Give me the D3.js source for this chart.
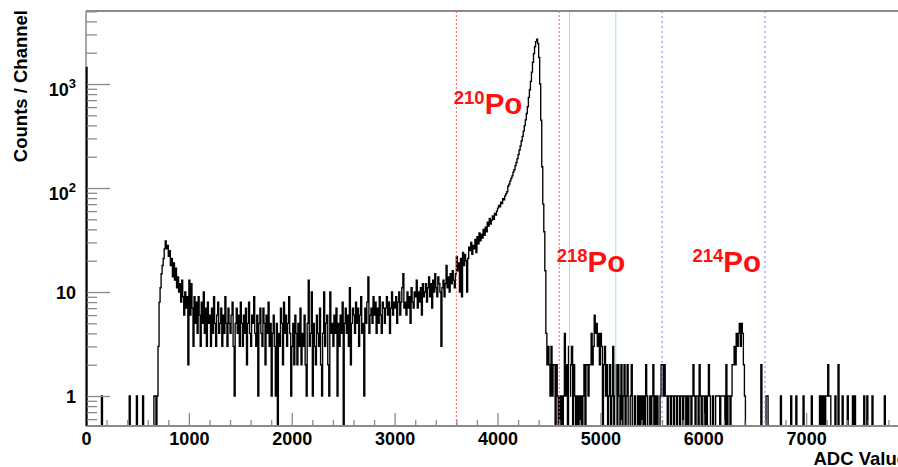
<!DOCTYPE html>
<html><head><meta charset="utf-8">
<script src="https://cdn.jsdelivr.net/npm/d3@7"></script>
<style>body{margin:0;background:#fff}svg{display:block}</style>
</head><body>
<svg id="chart" width="898" height="467"></svg>
<script>
// ---------- data (bin width 10 ADC channels, 0..8000) ----------
const binWidth = 10;
// bins 0-69 (ADC 0-699)
const pedestal = [
  1450,0,0,0,0,0,0,0,0,0,
  0,0,0,0,0,1,0,0,0,0,
  0,0,0,0,0,0,0,0,0,0,
  0,0,0,0,0,0,0,0,0,0,
  0,0,1,0,0,0,0,0,0,1,
  0,0,0,0,0,1,0,0,0,0,
  0,0,0,0,0,0,1,1,0,1
];
// bins 70-119 (ADC 700-1199)
const lowBump = [
  3,8,11,15,18,21,26,31,26,28,
  22,25,18,21,14,19,13,17,11,14,
  10,12,8,13,9,6,10,7,9,2,
  13,6,12,7,3,9,5,8,4,9,
  6,3,8,5,10,4,7,3,8,5
];
// bins 120-359 (ADC 1200-3599)
const plateau = [
  6,3,7,4,9,5,3,6,8,4,
  5,7,3,6,4,9,5,3,7,5,
  4,6,8,3,1,5,7,4,6,3,
  8,5,3,6,4,7,2,5,8,4,
  3,6,5,9,4,3,6,1,5,7,
  4,3,7,5,2,6,4,8,3,5,
  1,4,6,3,1,5,0,4,3,7,
  5,2,8,4,6,3,5,9,4,1,
  3,5,2,6,4,2,5,3,7,2,
  4,3,6,2,1,5,13,3,4,10,
  1,5,3,2,6,4,3,7,2,1,
  4,10,3,5,6,2,1,10,4,5,
  3,6,4,7,1,5,3,6,4,8,
  0,5,7,4,6,3,11,2,5,7,
  6,4,8,5,7,3,6,9,4,5,
  1,7,5,8,14,4,6,7,5,9,
  6,8,4,7,5,9,6,4,8,7,
  5,7,9,6,8,4,7,10,6,8,
  7,9,5,8,10,6,8,11,15,7,
  8,6,10,7,9,5,11,8,7,10,
  9,13,7,10,8,11,6,12,9,10,
  12,8,11,14,9,12,7,13,10,15,
  11,9,14,12,10,3,11,13,9,12,
  18,11,14,10,15,12,16,13,11,15
];
// bins 360-448 (ADC 3600-4489)
const po210Peak = [
  22,16,19,10,21,9,24,18,23,20,
  10,21,27,25,30,23,28,26,32,24,
  34,29,37,31,36,33,40,35,42,38,
  47,43,51,45,49,54,50,57,55,60,
  64,68,66,73,71,79,77,84,88,92,
  104,109,117,124,131,142,150,163,176,192,
  210,232,254,283,314,352,398,452,520,605,
  745,880,1060,1300,1620,1960,2280,2560,2700,2450,
  1800,1000,450,160,70,38,16,4,2
];
// bins 449-799 (ADC 4490-7999)
const tail = [
  3,
  2,1,3,1,2,2,0,2,1,0,
  1,0,1,0,1,4,1,2,0,3,
  1,2,3,0,2,1,0,1,0,1,
  0,1,0,1,2,0,2,2,1,2,
  2,4,2,3,6,4,5,3,4,2,
  4,3,0,2,3,1,2,0,1,2,
  0,1,3,0,1,2,0,2,1,0,
  2,0,1,2,0,1,2,0,0,1,
  2,0,0,1,0,0,1,0,1,0,
  1,0,1,0,2,1,0,0,1,0,
  1,2,0,1,0,1,0,0,1,2,
  2,1,2,1,1,0,1,1,0,1,
  1,0,1,1,0,1,1,0,1,1,
  0,1,1,0,1,0,1,1,0,1,
  2,1,0,1,1,0,2,1,0,1,
  1,0,1,0,1,2,1,0,0,1,
  0,0,1,1,1,1,0,1,1,1,
  1,0,2,0,1,1,0,1,2,2,
  3,2,4,3,4,5,3,5,4,2,
  1,0,0,0,0,0,0,0,0,0,
  0,0,0,0,0,0,2,0,0,0,
  0,1,1,0,0,0,0,0,0,0,
  0,0,0,0,0,1,0,0,0,0,
  0,0,0,0,0,1,0,0,0,0,
  1,0,0,0,0,0,0,1,0,0,
  0,0,0,0,0,1,0,0,0,0,
  0,0,0,1,0,1,0,1,0,1,
  1,2,1,1,0,0,0,0,1,0,
  0,2,0,0,0,1,0,0,0,0,
  1,0,0,0,0,1,0,1,0,0,
  0,0,0,0,0,0,1,0,0,1,
  0,0,0,0,1,0,0,0,0,0,
  0,0,0,0,0,0,1,0,0,0,
  0,0,0,0,0,0,0,0,0,0,
  0,0,0,0,0,0,0,0,0,0
];
const xMajorTicks = [0,1000,2000,3000,4000,5000,6000,7000];
const yMajorTicks = [1,10,100,1000];
const yTickBase = ["1","10","10","10"];
const yTickExp  = ["","","2","3"];
// window markers (ADC value, family)
const markerADC  = [3600,4600,4700,5150,5600,6600];
const markerKind = ["red","red","green","green","blue","blue"];
// isotope labels: mass number, anchor ADC, anchor counts
const isoMass   = ["210","218","214"];
const isoADC    = [3575,4575,5895];
const isoCounts = [520,15.6,15.6];

// ---------- drawing ----------
const svg = d3.select("#chart");
const L=86, R=909, T=11, B=426;
const x = d3.scaleLinear().domain([0,8000]).range([L,R]);
const y = d3.scaleLog().domain([0.515,5035]).range([B,T]);
const FONT = "'Liberation Sans', Arial, Helvetica, sans-serif";
const AX = "#8a8a8a";

svg.append("defs").append("clipPath").attr("id","frame")
  .append("rect").attr("x",L).attr("y",T).attr("width",R-L).attr("height",B-T);

const counts = [].concat(pedestal, lowBump, plateau, po210Peak, tail);
const yMin = y.domain()[0];
const pts = [[x(0), B]];
counts.forEach((c,i)=>pts.push([x(i*binWidth), y(Math.max(c,yMin))]));
pts.push([x(counts.length*binWidth), y(Math.max(counts[counts.length-1],yMin))]);
const line = d3.line().curve(d3.curveStepAfter);

svg.append("path").attr("d", line(pts)).attr("clip-path","url(#frame)")
  .attr("fill","none").attr("stroke","#000").attr("stroke-width",1.35);

// markers
const mStyle = {
  red:   {c:"#ff5c5c", d:"2,2"},
  green: {c:"#a6ee9e", d:null},
  blue:  {c:"#6f7cff", d:"2,3"}
};
markerADC.forEach((a,i)=>{
  const s = mStyle[markerKind[i]];
  const l = svg.append("line").attr("x1",x(a)).attr("x2",x(a)).attr("y1",T).attr("y2",B)
    .attr("stroke",s.c).attr("stroke-width",1);
  if (s.d) l.attr("stroke-dasharray",s.d);
});

// x axis
const gx = svg.append("g").attr("transform",`translate(0,${B})`);
gx.call(d3.axisBottom(x).tickValues(d3.range(0,8001,200).filter(v=>v%1000)).tickSize(-6).tickFormat(""));
gx.call(g=>g.select(".domain").remove());
const gx2 = svg.append("g").attr("transform",`translate(0,${B})`);
gx2.call(d3.axisBottom(x).tickValues(xMajorTicks).tickSize(-13).tickPadding(6).tickFormat(d3.format("d")));
gx2.select(".domain").remove();
svg.selectAll("g .tick line").attr("stroke",AX).attr("stroke-width",1.3);
gx2.selectAll(".tick text").attr("font-family",FONT).attr("font-size",18).attr("font-weight","bold").attr("fill","#000");

// y axis
const gy = svg.append("g").attr("transform",`translate(${L},0)`);
gy.call(d3.axisLeft(y).tickValues(y.ticks().filter(v=>!yMajorTicks.includes(v))).tickSize(-11).tickFormat(""));
gy.select(".domain").remove();
const gy2 = svg.append("g").attr("transform",`translate(${L},0)`);
gy2.call(d3.axisLeft(y).tickValues(yMajorTicks).tickSize(-24).tickPadding(10).tickFormat(""));
gy2.select(".domain").remove();
svg.selectAll("g .tick line").attr("stroke",AX).attr("stroke-width",1.3);
gy2.selectAll(".tick text").each(function(d){
  const i = yMajorTicks.indexOf(d);
  const t = d3.select(this).attr("font-family",FONT).attr("font-weight","bold").attr("fill","#000").attr("font-size",18);
  t.text(null);
  if (yTickExp[i]) {
    t.attr("dy", 11);
    t.append("tspan").text(yTickBase[i]);
    t.append("tspan").attr("dy",-8).attr("font-size",13).text(yTickExp[i]);
  } else {
    t.attr("dy", 6.5).text(yTickBase[i]);
  }
});

// frame
svg.append("line").attr("x1",L).attr("x2",898).attr("y1",T).attr("y2",T).attr("stroke",AX).attr("stroke-width",2);
svg.append("line").attr("x1",L).attr("x2",898).attr("y1",B).attr("y2",B).attr("stroke",AX).attr("stroke-width",2);
svg.append("line").attr("x1",L).attr("x2",L).attr("y1",T).attr("y2",B).attr("stroke",AX).attr("stroke-width",1.5);
// redraw histogram's first bin over frame
svg.append("line").attr("x1",x(0)+0.3).attr("x2",x(0)+0.3).attr("y1",B).attr("y2",y(pedestal[0]))
  .attr("stroke","#000").attr("stroke-width",1.3);

// titles
svg.append("text").attr("transform",`translate(27,${T-1}) rotate(-90)`).attr("text-anchor","end")
  .attr("font-family",FONT).attr("font-weight","bold").attr("font-size",18.5).text("Counts / Channel");
svg.append("text").attr("x",907).attr("y",465).attr("text-anchor","end")
  .attr("font-family",FONT).attr("font-weight","bold").attr("font-size",18.5).text("ADC Value");

// isotope labels
isoMass.forEach((m,i)=>{
  const t = svg.append("text").attr("x",x(isoADC[i])).attr("y",y(isoCounts[i]))
    .attr("font-family",FONT).attr("font-weight","bold").attr("fill","#ff1010").attr("font-size",29.5);
  t.append("tspan").attr("font-size",18.5).attr("dy",-10).text(m);
  t.append("tspan").attr("dy",10).text("Po");
});
</script>
</body></html>
